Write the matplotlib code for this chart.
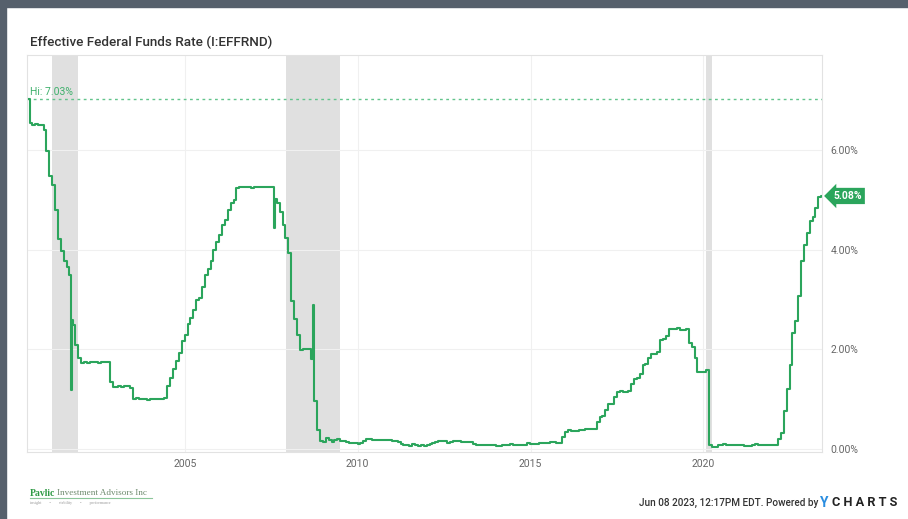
import numpy as np
import pandas as pd
import matplotlib
matplotlib.use("Agg")
import matplotlib.pyplot as plt
from matplotlib.patches import Rectangle

# monthly effective fed funds rate (%), Jul 2000 - Jun 2023
rate_2000 = [6.54, 6.50, 6.52, 6.51, 6.51, 6.40]
rate_2001 = [5.98, 5.49, 5.31, 4.80, 4.21, 3.97, 3.77, 3.65, 3.50, 2.49, 2.09, 1.82]
rate_2002 = [1.73, 1.74, 1.73, 1.75, 1.75, 1.75, 1.73, 1.74, 1.75, 1.75, 1.34, 1.24]
rate_2003 = [1.24, 1.26, 1.25, 1.26, 1.26, 1.22, 1.01, 1.03, 1.01, 1.01, 1.00, 0.98]
rate_2004 = [1.00, 1.01, 1.00, 1.00, 1.00, 1.03, 1.26, 1.43, 1.61, 1.76, 1.93, 2.16]
rate_2005 = [2.28, 2.50, 2.63, 2.79, 3.00, 3.04, 3.26, 3.50, 3.62, 3.78, 4.00, 4.16]
rate_2006 = [4.29, 4.49, 4.59, 4.79, 4.94, 4.99, 5.24, 5.25, 5.25, 5.25, 5.25, 5.24]
rate_2007 = [5.25, 5.26, 5.26, 5.25, 5.25, 5.25, 5.26, 5.02, 4.94, 4.76, 4.49, 4.24]
rate_2008 = [3.94, 2.98, 2.61, 2.28, 1.98, 2.00, 2.01, 2.00, 1.81, 0.97, 0.39, 0.16]
rate_2009 = [0.15, 0.22, 0.18, 0.15, 0.18, 0.21, 0.16, 0.16, 0.15, 0.12, 0.12, 0.12]
rate_2010 = [0.11, 0.13, 0.16, 0.20, 0.20, 0.18, 0.18, 0.19, 0.19, 0.19, 0.19, 0.18]
rate_2011 = [0.17, 0.16, 0.14, 0.10, 0.09, 0.09, 0.07, 0.10, 0.08, 0.07, 0.08, 0.07]
rate_2012 = [0.08, 0.10, 0.13, 0.14, 0.16, 0.16, 0.16, 0.13, 0.14, 0.16, 0.16, 0.16]
rate_2013 = [0.14, 0.15, 0.14, 0.15, 0.11, 0.09, 0.09, 0.08, 0.08, 0.09, 0.08, 0.09]
rate_2014 = [0.07, 0.07, 0.08, 0.09, 0.09, 0.10, 0.09, 0.09, 0.09, 0.09, 0.09, 0.12]
rate_2015 = [0.11, 0.11, 0.11, 0.12, 0.12, 0.13, 0.13, 0.14, 0.14, 0.12, 0.12, 0.24]
rate_2016 = [0.34, 0.38, 0.36, 0.37, 0.37, 0.38, 0.39, 0.40, 0.40, 0.40, 0.41, 0.54]
rate_2017 = [0.65, 0.66, 0.79, 0.90, 0.91, 1.04, 1.15, 1.16, 1.15, 1.15, 1.16, 1.30]
rate_2018 = [1.41, 1.42, 1.51, 1.69, 1.70, 1.82, 1.91, 1.91, 1.95, 2.19, 2.20, 2.27]
rate_2019 = [2.40, 2.40, 2.41, 2.42, 2.39, 2.38, 2.40, 2.13, 2.04, 1.83, 1.55, 1.55]
rate_2020 = [1.55, 1.58, 0.08, 0.05, 0.05, 0.08, 0.09, 0.10, 0.09, 0.09, 0.09, 0.09]
rate_2021 = [0.09, 0.08, 0.07, 0.07, 0.06, 0.08, 0.10, 0.09, 0.08, 0.08, 0.08, 0.08]
rate_2022 = [0.08, 0.08, 0.20, 0.33, 0.77, 1.21, 1.68, 2.33, 2.56, 3.08, 3.78, 4.10]
rate_2023 = [4.33, 4.57, 4.65, 4.83, 5.06, 5.08]

# single days seen on the chart (spikes)
spike_dates = ["2000-07-01", "2001-09-19", "2001-09-24", "2007-08-09", "2008-09-16"]
spike_vals = [7.03, 1.18, 2.60, 4.43, 2.89]

recessions = [("2001-03-01", "2001-11-30"), ("2007-12-01", "2009-06-30"), ("2020-02-01", "2020-04-01")]
y_ticks = [0, 2, 4, 6]
y_labels = ["0.00%", "2.00%", "4.00%", "6.00%"]
x_tick_years = [2005, 2010, 2015, 2020]
hi_value = 7.03
last_value = 5.08

monthly = (rate_2000 + rate_2001 + rate_2002 + rate_2003 + rate_2004 + rate_2005 +
           rate_2006 + rate_2007 + rate_2008 + rate_2009 + rate_2010 + rate_2011 +
           rate_2012 + rate_2013 + rate_2014 + rate_2015 + rate_2016 + rate_2017 +
           rate_2018 + rate_2019 + rate_2020 + rate_2021 + rate_2022 + rate_2023)
dates = pd.date_range("2000-07-01", periods=len(monthly), freq="MS") + pd.Timedelta(days=14)
s = pd.Series(monthly, index=dates)
s = pd.concat([s, pd.Series(spike_vals, index=pd.to_datetime(spike_dates))]).sort_index()
s.index = list(s.index[:-1]) + [pd.Timestamp("2023-06-07")]

green = "#2ba55c"
plt.rcParams["font.family"] = ["Roboto", "DejaVu Sans"]
fig = plt.figure(figsize=(9.08, 5.19), dpi=100)

# dark frame strips
fig.patches.append(Rectangle((0, 0), 6 / 908, 1, transform=fig.transFigure, color="#56606c", zorder=0))
fig.patches.append(Rectangle((0, 1 - 7 / 519), 1, 7 / 519, transform=fig.transFigure, color="#56606c", zorder=0))

ax = fig.add_axes([27 / 908, 1 - 452 / 519, (822 - 27) / 908, (452 - 55) / 519])
for a, b in recessions:
    ax.axvspan(pd.Timestamp(a), pd.Timestamp(b), color="#e0e0e0", lw=0, zorder=1)

ax.plot(s.index, s.values, color=green, lw=1.5, zorder=3, drawstyle="steps-mid")
ax.axhline(hi_value, color="#63c48c", lw=1, ls=(0, (2, 2.5)), zorder=2)

ax.set_xlim(pd.Timestamp("2000-06-08"), pd.Timestamp("2023-06-08"))
ax.set_ylim(-0.06, 7.91)
ax.set_xticks([pd.Timestamp(f"{y}-01-01") for y in x_tick_years])
ax.set_xticklabels([str(y) for y in x_tick_years])
ax.set_yticks(y_ticks)
ax.set_yticklabels(y_labels)
ax.yaxis.tick_right()
ax.tick_params(axis="y", length=0, pad=6, labelsize=7.5, labelcolor="#666666")
ax.tick_params(axis="x", length=0, pad=5, labelsize=7.5, labelcolor="#666666")
ax.grid(True, color="#f0f0f0", lw=0.8, zorder=0)
for sp in ax.spines.values():
    sp.set_color("#e2e2e2")
    sp.set_linewidth(0.8)

ax.text(0.004, hi_value + 0.03, f"Hi: {hi_value:.2f}%", transform=ax.get_yaxis_transform(),
        color="#3fb06c", fontsize=7.5, va="bottom", ha="left")

ax.annotate(f"{last_value:.2f}%", xy=(1, last_value), xycoords=("axes fraction", "data"),
            xytext=(8, 0), textcoords="offset points", ha="left", va="center",
            color="white", fontsize=7.5, fontweight="bold",
            bbox=dict(boxstyle="larrow,pad=0.3", fc=green, ec="none"))

fig.text(30 / 908, 1 - 42 / 519, "Effective Federal Funds Rate (I:EFFRND)", fontsize=9.7,
         fontweight="medium", color="#333333", va="center", ha="left")

# logo, bottom left
fig.text(30 / 908, 1 - 493 / 519, "Pavlic", family="Liberation Serif", fontsize=7,
         fontweight="bold", color="#2f9a45", va="center", ha="left")
fig.text(57 / 908, 1 - 493 / 519, "Investment Advisors Inc", family="Liberation Serif", fontsize=6.6,
         color="#6e8a6e", va="center", ha="left")
fig.add_artist(plt.Line2D([30 / 908, 152 / 908], [1 - 498 / 519] * 2, color="#8cc69a", lw=0.8))
fig.text(30 / 908, 1 - 503 / 519, "insight        \u2022        stability        \u2022        performance",
         family="Liberation Serif", fontsize=3, color="#999999", va="center", ha="left")

# footer, bottom right
fig.text(818 / 908, 1 - 503 / 519, "Jun 08 2023, 12:17PM EDT. Powered by", fontsize=7.2,
         fontweight="medium", color="#333333", va="center", ha="right")
fig.text(820 / 908, 1 - 503 / 519, "Y", fontsize=10, fontweight="bold", color="#2a8de0",
         va="center", ha="left")
fig.text(832 / 908, 1 - 503 / 519, "C H A R T S", fontsize=9.2, fontweight="bold", color="#222222",
         va="center", ha="left")

fig.savefig("out.png", dpi=100)
